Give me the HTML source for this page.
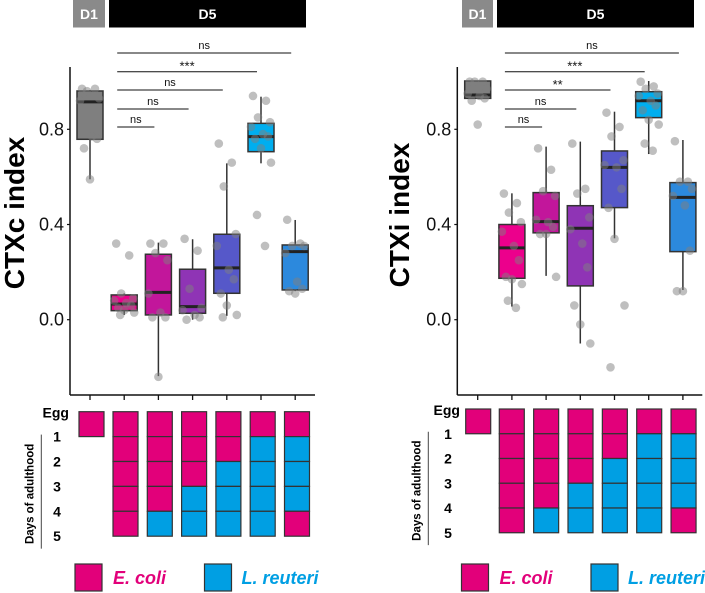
<!DOCTYPE html>
<html><head><meta charset="utf-8"><style>
html,body{margin:0;padding:0;background:#fff;}
svg{display:block;font-family:"Liberation Sans",Arial,sans-serif;}
</style></head><body>
<svg id="fig" width="705" height="593" viewBox="0 0 705 593"></svg>
<script>
const groupColors=["#7f7f7f","#ec008c","#c2169b","#8f34b5","#5658c9","#00aeef","#2c89dd"];
const yTicks=[0.0,0.4,0.8];
const yTickLabels=["0.0","0.4","0.8"];
// left panel (CTXc) box stats: [low, q1, median, q3, high]
const ctxcStats=[[0.59,0.758,0.915,0.961,0.965],[0.02,0.038,0.066,0.104,0.11],[-0.237,0.02,0.115,0.275,0.324],[0.0,0.027,0.055,0.212,0.338],[0.016,0.111,0.218,0.359,0.657],[0.657,0.706,0.769,0.825,0.937],[0.12,0.125,0.286,0.314,0.419]];
const ctxcPoints=[[0.97,0.97,0.96,0.93,0.92,0.77,0.76,0.72,0.59],[0.32,0.27,0.11,0.09,0.08,0.07,0.06,0.05,0.04,0.03,0.02],[0.32,0.32,0.28,0.25,0.11,0.03,0.01,0.01,-0.24],[0.34,0.29,0.13,0.05,0.04,0.02,0.01,0.0],[0.74,0.66,0.56,0.36,0.31,0.21,0.17,0.11,0.06,0.02,0.01],[0.94,0.92,0.85,0.83,0.81,0.78,0.77,0.76,0.72,0.66,0.44,0.31],[0.42,0.32,0.31,0.31,0.28,0.16,0.13,0.12,0.11]];
const ctxiStats=[[0.93,0.93,0.944,1.003,1.003],[0.055,0.174,0.302,0.4,0.531],[0.184,0.365,0.412,0.534,0.727],[-0.1,0.142,0.384,0.479,0.748],[0.342,0.471,0.64,0.709,0.874],[0.696,0.849,0.92,0.958,1.003],[0.125,0.286,0.514,0.576,0.755]];
const ctxiPoints=[[1.0,1.0,1.0,0.97,0.95,0.94,0.93,0.92,0.82],[0.53,0.49,0.45,0.41,0.37,0.31,0.25,0.18,0.17,0.15,0.08,0.05],[0.72,0.63,0.54,0.52,0.42,0.41,0.39,0.36,0.36,0.18],[0.74,0.55,0.53,0.43,0.38,0.32,0.22,0.06,-0.02,-0.1],[0.87,0.81,0.77,0.67,0.65,0.64,0.55,0.47,0.34,0.06,-0.2],[1.0,0.98,0.97,0.95,0.94,0.92,0.90,0.88,0.84,0.82,0.74,0.71],[0.75,0.58,0.58,0.55,0.52,0.48,0.29,0.12,0.12]];
// significance comparisons: target group, label
const ctxcSig=[[2,"ns"],[3,"ns"],[4,"ns"],[5,"***"],[6,"ns"]];
const ctxiSig=[[2,"ns"],[3,"ns"],[4,"**"],[5,"***"],[6,"ns"]];
// bacteria per row (egg-day1, 1-2, 2-3, 3-4, 4-5): P = E. coli, B = L. reuteri
const schedule=["PPPPP","PPPPB","PPPBB","PPBBB","PBBBB","PBBBP"];
const PINK="#e2007a", BLUE="#009fe3";

const NS="http://www.w3.org/2000/svg";
const svg=document.getElementById("fig");
function el(tag,attrs,parent,text){const e=document.createElementNS(NS,tag);for(const k in attrs)e.setAttribute(k,attrs[k]);if(text!==undefined)e.textContent=text;(parent||svg).appendChild(e);return e;}

function panel(cfg){
  const g=el("g",{});
  
  
  const y0=319.7, pxPer=238;
  const yS=v=>y0-v*pxPer;
  const xS=i=>cfg.x0+i*cfg.dx;
  // header
  const h1=el("rect",{x:cfg.d1[0],y:0,width:cfg.d1[1]-cfg.d1[0],height:27.5,fill:"#8a8a8a"},g);
  
  
  el("text",{x:(cfg.d1[0]+cfg.d1[1])/2,y:19,fill:"#fff","font-weight":"bold","font-size":14,"text-anchor":"middle"},g,"D1");
  const h5=el("rect",{x:cfg.d5[0],y:0,width:cfg.d5[1]-cfg.d5[0],height:27.5,fill:"#000"},g);
  
  
  el("text",{x:(cfg.d5[0]+cfg.d5[1])/2,y:19,fill:"#fff","font-weight":"bold","font-size":14,"text-anchor":"middle"},g,"D5");
  // axes
  el("line",{x1:cfg.ax,y1:67,x2:cfg.ax,y2:395,stroke:"#111","stroke-width":1.5},g);
  el("line",{x1:cfg.ax,y1:395,x2:cfg.ax+245,y2:395,stroke:"#111","stroke-width":1.5},g);
  yTicks.forEach((t,i)=>{
    el("line",{x1:cfg.ax-3,y1:yS(t),x2:cfg.ax,y2:yS(t),stroke:"#111","stroke-width":1.2},g);
    const tl=el("text",{x:cfg.ax-6,y:yS(t)+6,"font-size":18,"text-anchor":"end",fill:"#111"},g,yTickLabels[i]);
    
    
  });
  for(let i=0;i<7;i++) el("line",{x1:xS(i),y1:395,x2:xS(i),y2:400,stroke:"#111","stroke-width":1.3},g);
  const yt=el("text",{transform:`translate(${cfg.titleX},${cfg.titleY}) rotate(-90)`,"font-size":28,"font-weight":"bold","text-anchor":"middle",fill:"#000"},g,cfg.title);
  
  
  // boxes
  const bw=26;
  cfg.stats.forEach((s,i)=>{
    const x=xS(i);
    el("line",{x1:x,y1:yS(s[0]),x2:x,y2:yS(s[4]),stroke:"#333","stroke-width":1.5},g);
    const b=el("rect",{x:x-bw/2,y:yS(s[3]),width:bw,height:yS(s[1])-yS(s[3]),fill:groupColors[i],stroke:"#333","stroke-width":1.5},g);
    
    
    el("line",{x1:x-bw/2,y1:yS(s[2]),x2:x+bw/2,y2:yS(s[2]),stroke:"#222","stroke-width":3},g);
  });
  const jit=[-8,5,-3,9,-10,2,7,-6,0,10,-4,4];
  cfg.points.forEach((arr,i)=>{
    arr.forEach((v,k)=>{
      const p=el("circle",{cx:xS(i)+jit[k%jit.length],cy:yS(v),r:4.3,fill:"#808080","fill-opacity":0.5},g);
      
      
    });
  });
  // significance
  const sigY=[127,109,90,71.7,53];
  cfg.sig.forEach((s,k)=>{
    const x1=xS(1)-7,x2=xS(s[0])-4;
    el("line",{x1:x1,y1:sigY[k],x2:x2,y2:sigY[k],stroke:"#111","stroke-width":1},g);
    const st=el("text",{x:(x1+x2)/2,y:sigY[k]-(s[1]==="ns"?4:1),"font-size":s[1]==="ns"?11:13,"text-anchor":"middle",fill:"#111"},g,s[1]);
    
    
  });
  // schedule grid
  const gb=cfg.grid;
  el("text",{x:gb.labX+14,y:gb.top+6,"font-size":14,"font-weight":"bold","text-anchor":"end",fill:"#000"},g,"Egg");
  for(let r=1;r<=5;r++) el("text",{x:gb.labX+2,y:gb.top+r*gb.rh+5,"font-size":14,"font-weight":"bold","text-anchor":"middle",fill:"#000"},g,String(r));
  el("line",{x1:gb.lineX,y1:gb.top+gb.rh-2,x2:gb.lineX,y2:gb.top+5.5*gb.rh,stroke:"#444","stroke-width":1},g);
  el("text",{transform:`translate(${gb.lineX-8},${gb.top+3.3*gb.rh}) rotate(-90)`,"font-size":11.5,"font-weight":"bold","text-anchor":"middle",fill:"#000"},g,"Days of adulthood");
  const egg=el("rect",{x:gb.eggX,y:gb.top,width:25,height:gb.rh,fill:PINK,stroke:"#333","stroke-width":1.2},g);
  
  
  schedule.forEach((col,c)=>{
    const x=gb.colX+c*gb.cdx;
    for(let r=0;r<5;r++){
      const cell=el("rect",{x:x,y:gb.top+r*gb.rh,width:25,height:gb.rh,fill:col[r]==="P"?PINK:BLUE,stroke:"#333","stroke-width":1.2},g);
      
      
    }
  });
  // legend
  const lp=el("rect",{x:gb.legX,y:564,width:27,height:27,fill:PINK,stroke:"#333","stroke-width":1.2},g);
  
  
  el("text",{x:gb.legX+38,y:584,"font-size":18,"font-weight":"bold","font-style":"italic",fill:PINK},g,"E. coli");
  const lb=el("rect",{x:gb.legX+129.5,y:564,width:27,height:27,fill:BLUE,stroke:"#333","stroke-width":1.2},g);
  
  
  el("text",{x:gb.legX+166.5,y:584,"font-size":18,"font-weight":"bold","font-style":"italic",fill:BLUE},g,"L. reuteri");
}
panel({name:"ctxc-panel",x0:90,dx:34.2,ax:70,d1:[73,105],d5:[109,306],title:"CTXc index",titleX:24,titleY:213,stats:ctxcStats,points:ctxcPoints,sig:ctxcSig,
  grid:{top:411.7,rh:24.9,eggX:79,colX:113,cdx:34.3,labX:55,lineX:41.3,legX:75}});
panel({name:"ctxi-panel",x0:477.7,dx:34.2,ax:457.3,d1:[462,493],d5:[497,694],title:"CTXi index",titleX:409,titleY:215,stats:ctxiStats,points:ctxiPoints,sig:ctxiSig,
  grid:{top:409,rh:24.75,eggX:465.7,colX:499.3,cdx:34.35,labX:446,lineX:428.3,legX:461.5}});
</script>
</body></html>
